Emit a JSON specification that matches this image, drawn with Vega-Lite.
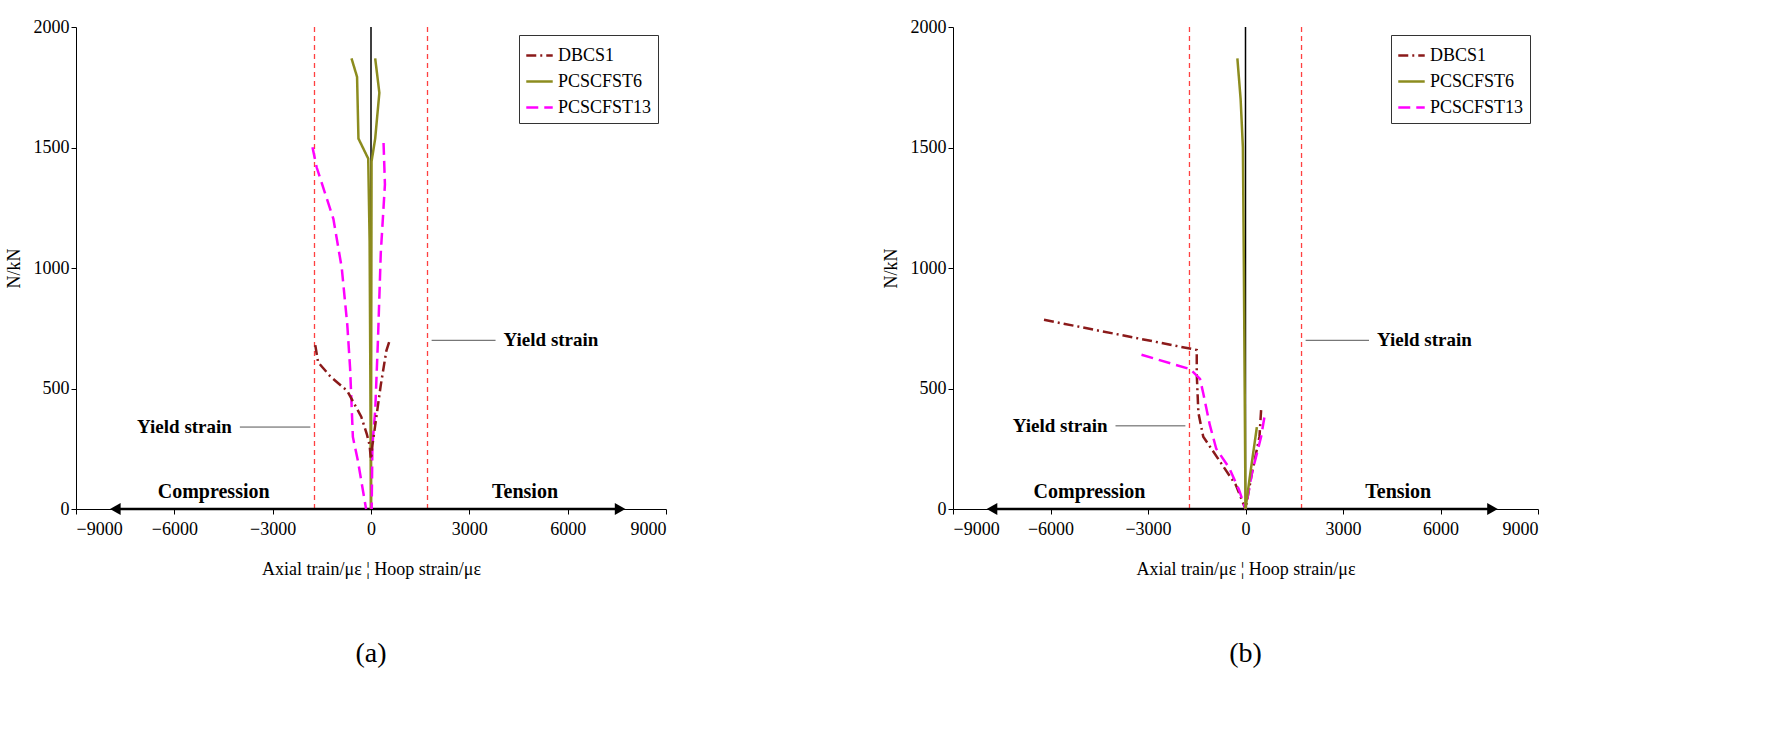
{
  "$schema": "https://vega.github.io/schema/vega-lite/v6.json",
  "background": "white",
  "padding": {"left": 5, "top": 18, "right": 5, "bottom": 5},
  "config": {
    "view": {"stroke": null},
    "font": "Liberation Serif",
    "axis": {"labelFont": "Liberation Serif", "titleFont": "Liberation Serif", "labelFontSize": 18, "titleFontSize": 18, "titleFontWeight": "normal", "domainColor": "black", "tickColor": "black", "labelColor": "black", "titleColor": "black", "grid": false, "tickSize": 5, "format": "d"},
    "title": {"font": "Liberation Serif", "fontSize": 28, "fontWeight": "normal", "orient": "bottom", "offset": 62},
    "concat": {"spacing": 215}
  },
  "resolve": {"legend": {"color": "independent", "strokeDash": "independent"}},
  "datasets": {
    "lines": [
      {"p": "a", "s": "PCSCFST6", "g": "L", "i": 1, "x": -595, "y": 1870},
      {"p": "a", "s": "PCSCFST6", "g": "L", "i": 2, "x": -425, "y": 1793},
      {"p": "a", "s": "PCSCFST6", "g": "L", "i": 3, "x": -383, "y": 1537},
      {"p": "a", "s": "PCSCFST6", "g": "L", "i": 4, "x": -85, "y": 1454},
      {"p": "a", "s": "PCSCFST6", "g": "L", "i": 5, "x": -42, "y": 1109},
      {"p": "a", "s": "PCSCFST6", "g": "L", "i": 6, "x": -10, "y": 300},
      {"p": "a", "s": "PCSCFST6", "g": "L", "i": 7, "x": 0, "y": 0},
      {"p": "a", "s": "PCSCFST6", "g": "R", "i": 1, "x": 128, "y": 1870},
      {"p": "a", "s": "PCSCFST6", "g": "R", "i": 2, "x": 255, "y": 1727},
      {"p": "a", "s": "PCSCFST6", "g": "R", "i": 3, "x": 128, "y": 1537},
      {"p": "a", "s": "PCSCFST6", "g": "R", "i": 4, "x": 17, "y": 1442},
      {"p": "a", "s": "PCSCFST6", "g": "R", "i": 5, "x": 5, "y": 500},
      {"p": "a", "s": "PCSCFST6", "g": "R", "i": 6, "x": 0, "y": 0},
      {"p": "a", "s": "PCSCFST13", "g": "L", "i": 1, "x": -1785, "y": 1501},
      {"p": "a", "s": "PCSCFST13", "g": "L", "i": 2, "x": -1658, "y": 1418},
      {"p": "a", "s": "PCSCFST13", "g": "L", "i": 3, "x": -1403, "y": 1311},
      {"p": "a", "s": "PCSCFST13", "g": "L", "i": 4, "x": -1148, "y": 1204},
      {"p": "a", "s": "PCSCFST13", "g": "L", "i": 5, "x": -893, "y": 1001},
      {"p": "a", "s": "PCSCFST13", "g": "L", "i": 6, "x": -723, "y": 764},
      {"p": "a", "s": "PCSCFST13", "g": "L", "i": 7, "x": -638, "y": 585},
      {"p": "a", "s": "PCSCFST13", "g": "L", "i": 8, "x": -553, "y": 299},
      {"p": "a", "s": "PCSCFST13", "g": "L", "i": 9, "x": -400, "y": 200},
      {"p": "a", "s": "PCSCFST13", "g": "L", "i": 10, "x": -250, "y": 80},
      {"p": "a", "s": "PCSCFST13", "g": "L", "i": 11, "x": -150, "y": 0},
      {"p": "a", "s": "PCSCFST13", "g": "R", "i": 1, "x": 383, "y": 1519},
      {"p": "a", "s": "PCSCFST13", "g": "R", "i": 2, "x": 425, "y": 1347},
      {"p": "a", "s": "PCSCFST13", "g": "R", "i": 3, "x": 298, "y": 1061},
      {"p": "a", "s": "PCSCFST13", "g": "R", "i": 4, "x": 213, "y": 704},
      {"p": "a", "s": "PCSCFST13", "g": "R", "i": 5, "x": 128, "y": 407},
      {"p": "a", "s": "PCSCFST13", "g": "R", "i": 6, "x": 43, "y": 264},
      {"p": "a", "s": "PCSCFST13", "g": "R", "i": 7, "x": 20, "y": 0},
      {"p": "a", "s": "DBCS1", "g": "L", "i": 1, "x": -1700, "y": 680},
      {"p": "a", "s": "DBCS1", "g": "L", "i": 2, "x": -1615, "y": 609},
      {"p": "a", "s": "DBCS1", "g": "L", "i": 3, "x": -1233, "y": 549},
      {"p": "a", "s": "DBCS1", "g": "L", "i": 4, "x": -723, "y": 490},
      {"p": "a", "s": "DBCS1", "g": "L", "i": 5, "x": -298, "y": 383},
      {"p": "a", "s": "DBCS1", "g": "L", "i": 6, "x": -128, "y": 311},
      {"p": "a", "s": "DBCS1", "g": "L", "i": 7, "x": -42, "y": 264},
      {"p": "a", "s": "DBCS1", "g": "L", "i": 8, "x": 0, "y": 200},
      {"p": "a", "s": "DBCS1", "g": "R", "i": 1, "x": 553, "y": 692},
      {"p": "a", "s": "DBCS1", "g": "R", "i": 2, "x": 468, "y": 656},
      {"p": "a", "s": "DBCS1", "g": "R", "i": 3, "x": 298, "y": 514},
      {"p": "a", "s": "DBCS1", "g": "R", "i": 4, "x": 128, "y": 347},
      {"p": "a", "s": "DBCS1", "g": "R", "i": 5, "x": 43, "y": 264},
      {"p": "a", "s": "DBCS1", "g": "R", "i": 6, "x": 0, "y": 200},
      {"p": "b", "s": "DBCS1", "g": "L", "i": 1, "x": -6200, "y": 785},
      {"p": "b", "s": "DBCS1", "g": "L", "i": 2, "x": -1500, "y": 660},
      {"p": "b", "s": "DBCS1", "g": "L", "i": 3, "x": -1500, "y": 560},
      {"p": "b", "s": "DBCS1", "g": "L", "i": 4, "x": -1450, "y": 400},
      {"p": "b", "s": "DBCS1", "g": "L", "i": 5, "x": -1300, "y": 300},
      {"p": "b", "s": "DBCS1", "g": "L", "i": 6, "x": -800, "y": 200},
      {"p": "b", "s": "DBCS1", "g": "L", "i": 7, "x": -300, "y": 100},
      {"p": "b", "s": "DBCS1", "g": "L", "i": 8, "x": 0, "y": 0},
      {"p": "b", "s": "DBCS1", "g": "R", "i": 1, "x": 480, "y": 410},
      {"p": "b", "s": "DBCS1", "g": "R", "i": 2, "x": 430, "y": 300},
      {"p": "b", "s": "DBCS1", "g": "R", "i": 3, "x": 200, "y": 150},
      {"p": "b", "s": "DBCS1", "g": "R", "i": 4, "x": 0, "y": 0},
      {"p": "b", "s": "PCSCFST13", "g": "L", "i": 1, "x": -3200, "y": 640},
      {"p": "b", "s": "PCSCFST13", "g": "L", "i": 2, "x": -1700, "y": 580},
      {"p": "b", "s": "PCSCFST13", "g": "L", "i": 3, "x": -1400, "y": 540},
      {"p": "b", "s": "PCSCFST13", "g": "L", "i": 4, "x": -1300, "y": 480},
      {"p": "b", "s": "PCSCFST13", "g": "L", "i": 5, "x": -1100, "y": 350},
      {"p": "b", "s": "PCSCFST13", "g": "L", "i": 6, "x": -900, "y": 250},
      {"p": "b", "s": "PCSCFST13", "g": "L", "i": 7, "x": -500, "y": 170},
      {"p": "b", "s": "PCSCFST13", "g": "L", "i": 8, "x": -200, "y": 80},
      {"p": "b", "s": "PCSCFST13", "g": "L", "i": 9, "x": 0, "y": 0},
      {"p": "b", "s": "PCSCFST13", "g": "R", "i": 1, "x": 580, "y": 380},
      {"p": "b", "s": "PCSCFST13", "g": "R", "i": 2, "x": 480, "y": 300},
      {"p": "b", "s": "PCSCFST13", "g": "R", "i": 3, "x": 200, "y": 150},
      {"p": "b", "s": "PCSCFST13", "g": "R", "i": 4, "x": 0, "y": 0},
      {"p": "b", "s": "PCSCFST6", "g": "L", "i": 1, "x": -250, "y": 1870},
      {"p": "b", "s": "PCSCFST6", "g": "L", "i": 2, "x": -150, "y": 1700},
      {"p": "b", "s": "PCSCFST6", "g": "L", "i": 3, "x": -80, "y": 1500},
      {"p": "b", "s": "PCSCFST6", "g": "L", "i": 4, "x": -50, "y": 1000},
      {"p": "b", "s": "PCSCFST6", "g": "L", "i": 5, "x": 0, "y": 0},
      {"p": "b", "s": "PCSCFST6", "g": "R", "i": 1, "x": 0, "y": 0},
      {"p": "b", "s": "PCSCFST6", "g": "R", "i": 2, "x": 150, "y": 150},
      {"p": "b", "s": "PCSCFST6", "g": "R", "i": 3, "x": 350, "y": 340}
    ],
    "notes": [
      {"p": "a", "t": "Yield strain", "y": 340, "x1": -4000, "x2": -1850, "al": "right"},
      {"p": "a", "t": "Yield strain", "y": 700, "x1": 3800, "x2": 1850, "al": "left"},
      {"p": "b", "t": "Yield strain", "y": 345, "x1": -4000, "x2": -1850, "al": "right"},
      {"p": "b", "t": "Yield strain", "y": 700, "x1": 3800, "x2": 1850, "al": "left"}
    ],
    "labels": [
      {"t": "Compression", "x": -4800, "y": 70},
      {"t": "Tension", "x": 4700, "y": 70}
    ],
    "yield": [{"x": -1724}, {"x": 1724}],
    "arrowAxis": [{"x": -7800, "x2": 7600, "y": 0}],
    "arrowHeads": [{"x": -7800, "sh": "triangle-left"}, {"x": 7600, "sh": "triangle-right"}],
    "vline": [{"x": 0, "y": 0, "y2": 2000}]
  },
  "hconcat": [
    {
      "width": 590, "height": 482,
      "title": "(a)",
      "layer": [
        {"data": {"name": "yield"}, "mark": {"type": "rule", "color": "#ff4040", "strokeDash": [5, 4], "strokeWidth": 1.3},
          "encoding": {"x": {"field": "x", "type": "quantitative", "scale": {"domain": [-9000, 9000], "nice": false}, "axis": {"values": [-9000, -6000, -3000, 0, 3000, 6000, 9000], "title": "Axial train/με     ¦     Hoop strain/με", "titlePadding": 22, "labelPadding": 6}}, "y": {"value": 0}, "y2": {"value": 482}}},
        {"data": {"name": "vline"}, "mark": {"type": "rule", "color": "black", "strokeWidth": 1.5},
          "encoding": {"x": {"field": "x", "type": "quantitative"}, "y": {"field": "y", "type": "quantitative", "scale": {"domain": [0, 2000], "nice": false}, "axis": {"values": [0, 500, 1000, 1500, 2000], "title": "N/kN", "titlePadding": 10}}, "y2": {"field": "y2"}}},
        {"data": {"name": "arrowAxis"}, "mark": {"type": "rule", "color": "black", "strokeWidth": 2.5},
          "encoding": {"x": {"field": "x", "type": "quantitative"}, "x2": {"field": "x2"}, "y": {"field": "y", "type": "quantitative"}}},
        {"data": {"name": "arrowHeads"}, "mark": {"type": "point", "filled": true, "color": "black", "size": 150, "opacity": 1},
          "encoding": {"x": {"field": "x", "type": "quantitative"}, "y": {"datum": 0, "type": "quantitative"}, "shape": {"field": "sh", "type": "nominal", "scale": null}}},
        {"data": {"name": "lines"}, "transform": [{"filter": "datum.p == 'a'"}], "mark": {"type": "line", "strokeWidth": 2.5},
          "encoding": {
            "x": {"field": "x", "type": "quantitative"}, "y": {"field": "y", "type": "quantitative"},
            "detail": {"field": "g"}, "order": {"field": "i"},
            "color": {"field": "s", "type": "nominal", "scale": {"domain": ["DBCS1", "PCSCFST6", "PCSCFST13"], "range": ["#8b1a1a", "#8c8c1e", "#ff00ff"]},
              "legend": {"title": null, "orient": "top-right", "offset": 8, "strokeColor": "#333", "padding": 6, "labelFont": "Liberation Serif", "labelFontSize": 18, "symbolStrokeWidth": 2.5, "symbolSize": 700, "symbolType": "stroke", "rowPadding": 2}},
            "strokeDash": {"field": "s", "type": "nominal", "scale": {"domain": ["DBCS1", "PCSCFST6", "PCSCFST13"], "range": [[10, 4, 2, 4], [1, 0], [12, 6]]}}
          }},
        {"data": {"name": "notes"}, "transform": [{"filter": "datum.p == 'a'"}], "mark": {"type": "rule", "color": "#555", "strokeWidth": 1},
          "encoding": {"x": {"field": "x1", "type": "quantitative"}, "x2": {"field": "x2"}, "y": {"field": "y", "type": "quantitative"}}},
        {"data": {"name": "notes"}, "transform": [{"filter": "datum.p == 'a'"}], "mark": {"type": "text", "fontWeight": "bold", "fontSize": 19, "font": "Liberation Serif", "dx": {"expr": "datum.al == 'right' ? -8 : 8"}, "align": {"expr": "datum.al"}},
          "encoding": {"x": {"field": "x1", "type": "quantitative"}, "y": {"field": "y", "type": "quantitative"}, "text": {"field": "t"}}},
        {"data": {"name": "labels"}, "mark": {"type": "text", "fontWeight": "bold", "fontSize": 20, "font": "Liberation Serif"},
          "encoding": {"x": {"field": "x", "type": "quantitative"}, "y": {"field": "y", "type": "quantitative"}, "text": {"field": "t"}}}
      ]
    },
    {
      "width": 585, "height": 482,
      "title": "(b)",
      "layer": [
        {"data": {"name": "yield"}, "mark": {"type": "rule", "color": "#ff4040", "strokeDash": [5, 4], "strokeWidth": 1.3},
          "encoding": {"x": {"field": "x", "type": "quantitative", "scale": {"domain": [-9000, 9000], "nice": false}, "axis": {"values": [-9000, -6000, -3000, 0, 3000, 6000, 9000], "title": "Axial train/με     ¦     Hoop strain/με", "titlePadding": 22, "labelPadding": 6}}, "y": {"value": 0}, "y2": {"value": 482}}},
        {"data": {"name": "vline"}, "mark": {"type": "rule", "color": "black", "strokeWidth": 1.5},
          "encoding": {"x": {"field": "x", "type": "quantitative"}, "y": {"field": "y", "type": "quantitative", "scale": {"domain": [0, 2000], "nice": false}, "axis": {"values": [0, 500, 1000, 1500, 2000], "title": "N/kN", "titlePadding": 10}}, "y2": {"field": "y2"}}},
        {"data": {"name": "arrowAxis"}, "mark": {"type": "rule", "color": "black", "strokeWidth": 2.5},
          "encoding": {"x": {"field": "x", "type": "quantitative"}, "x2": {"field": "x2"}, "y": {"field": "y", "type": "quantitative"}}},
        {"data": {"name": "arrowHeads"}, "mark": {"type": "point", "filled": true, "color": "black", "size": 150, "opacity": 1},
          "encoding": {"x": {"field": "x", "type": "quantitative"}, "y": {"datum": 0, "type": "quantitative"}, "shape": {"field": "sh", "type": "nominal", "scale": null}}},
        {"data": {"name": "lines"}, "transform": [{"filter": "datum.p == 'b'"}], "mark": {"type": "line", "strokeWidth": 2.5},
          "encoding": {
            "x": {"field": "x", "type": "quantitative"}, "y": {"field": "y", "type": "quantitative"},
            "detail": {"field": "g"}, "order": {"field": "i"},
            "color": {"field": "s", "type": "nominal", "scale": {"domain": ["DBCS1", "PCSCFST6", "PCSCFST13"], "range": ["#8b1a1a", "#8c8c1e", "#ff00ff"]},
              "legend": {"title": null, "orient": "top-right", "offset": 8, "strokeColor": "#333", "padding": 6, "labelFont": "Liberation Serif", "labelFontSize": 18, "symbolStrokeWidth": 2.5, "symbolSize": 700, "symbolType": "stroke", "rowPadding": 2}},
            "strokeDash": {"field": "s", "type": "nominal", "scale": {"domain": ["DBCS1", "PCSCFST6", "PCSCFST13"], "range": [[10, 4, 2, 4], [1, 0], [12, 6]]}}
          }},
        {"data": {"name": "notes"}, "transform": [{"filter": "datum.p == 'b'"}], "mark": {"type": "rule", "color": "#555", "strokeWidth": 1},
          "encoding": {"x": {"field": "x1", "type": "quantitative"}, "x2": {"field": "x2"}, "y": {"field": "y", "type": "quantitative"}}},
        {"data": {"name": "notes"}, "transform": [{"filter": "datum.p == 'b'"}], "mark": {"type": "text", "fontWeight": "bold", "fontSize": 19, "font": "Liberation Serif", "dx": {"expr": "datum.al == 'right' ? -8 : 8"}, "align": {"expr": "datum.al"}},
          "encoding": {"x": {"field": "x1", "type": "quantitative"}, "y": {"field": "y", "type": "quantitative"}, "text": {"field": "t"}}},
        {"data": {"name": "labels"}, "mark": {"type": "text", "fontWeight": "bold", "fontSize": 20, "font": "Liberation Serif"},
          "encoding": {"x": {"field": "x", "type": "quantitative"}, "y": {"field": "y", "type": "quantitative"}, "text": {"field": "t"}}}
      ]
    }
  ]
}
